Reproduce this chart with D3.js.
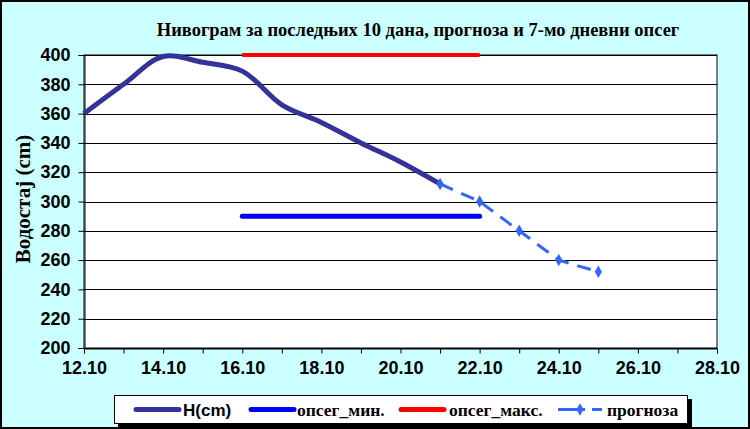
<!DOCTYPE html>
<html><head><meta charset="utf-8">
<script src="https://cdn.jsdelivr.net/npm/d3@7"></script>
<style>body{margin:0;padding:0;overflow:hidden}</style>
</head><body>
<svg id="c" width="750" height="429"></svg>
<script>
const days = [12,13,14,15,16,17,18,19,20,21,22,23,24,25,26,27,28];
const xTickLabels = ["12.10","14.10","16.10","18.10","20.10","22.10","24.10","26.10","28.10"];
const yTicks = [200,220,240,260,280,300,320,340,360,380,400];
const hDays = [12,13,14,15,16,17,18,19,20,21];
const hValues = [360,380,399,395,389,366,354,340,327,312];
const rangeDays = [16,22];
const rangeMin = [290,290];
const rangeMax = [400,400];
const fcDays = [21,22,23,24,25];
const fcValues = [312,300,280,260,252];
const title = "Нивограм за последњих 10 дана, прогноза и 7-мо дневни опсег";
const yLabel = "Водостај (cm)";
const legendItems = ["H(cm)","опсег_мин.","опсег_макс.","прогноза"];

const svg = d3.select("#c");
const W=750,H=429;
svg.append("rect").attr("x",0).attr("y",0).attr("width",W).attr("height",H).attr("fill","#ccffff");
svg.append("rect").attr("x",1).attr("y",1).attr("width",W-2).attr("height",H-2).attr("fill","none").attr("stroke","#000").attr("stroke-width",2);

const L=84,R=717,T=55,B=348;
const x = d3.scaleLinear().domain([12,28]).range([L,R]);
const y = d3.scaleLinear().domain([200,400]).range([B,T]);

svg.append("rect").attr("x",L).attr("y",T).attr("width",R-L).attr("height",B-T).attr("fill","#fff").attr("stroke","#000").attr("stroke-width",1);

// gridlines
svg.append("g").selectAll("line").data(yTicks).join("line")
  .attr("x1",L).attr("x2",R).attr("y1",d=>Math.round(y(d))+0.5).attr("y2",d=>Math.round(y(d))+0.5)
  .attr("stroke","#000").attr("stroke-width",1);

// y axis
const yAxis = d3.axisLeft(y).tickValues(yTicks).tickSize(6).tickPadding(8);
const gy = svg.append("g").attr("transform",`translate(${L+0.5},0)`).call(yAxis);
gy.selectAll("text").attr("font-family","Liberation Sans, Arial").attr("font-weight","bold").attr("font-size",18).attr("fill","#000");
gy.selectAll("line,path").attr("stroke","#000");

// x axis
const xAxis = d3.axisBottom(x).tickValues(days).tickSize(5).tickPadding(8)
  .tickFormat(d => { const i = days.indexOf(d); return i%2===0 ? xTickLabels[i/2] : ""; });
const gx = svg.append("g").attr("transform",`translate(0,${B+0.5})`).call(xAxis);
gx.selectAll("text").attr("font-family","Liberation Sans, Arial").attr("font-weight","bold").attr("font-size",18).attr("fill","#000");
gx.selectAll("line,path").attr("stroke","#000");

// range lines
const ln = d3.line().x(d=>x(d[0])).y(d=>y(d[1]));
svg.append("path").attr("d",ln(rangeDays.map((d,i)=>[d,rangeMax[i]]))).attr("stroke","#ff0000").attr("stroke-width",4).attr("fill","none");
svg.append("path").attr("d",ln(rangeDays.map((d,i)=>[d,rangeMin[i]]))).attr("stroke","#0000ff").attr("stroke-width",5).attr("stroke-linecap","round").attr("fill","none");

// H line
const lnS = d3.line().x(d=>x(d[0])).y(d=>y(d[1])).curve(d3.curveCatmullRom.alpha(0.5));
svg.append("path").attr("d",lnS(hDays.map((d,i)=>[d,hValues[i]]))).attr("stroke","#333399").attr("stroke-width",5).attr("fill","none").attr("stroke-linejoin","round");

// forecast
svg.append("path").attr("d",ln(fcDays.map((d,i)=>[d,fcValues[i]]))).attr("stroke","#3366ff").attr("stroke-width",3).attr("stroke-dasharray","14,9").attr("fill","none");
const diamond = d3.symbol().type(d3.symbolDiamond).size(45);
svg.append("g").selectAll("path").data(fcDays.map((d,i)=>[d,fcValues[i]])).join("path")
  .attr("d",diamond).attr("transform",d=>`translate(${x(d[0])},${y(d[1])})`).attr("fill","#3366ff");

// title
svg.append("text").attr("x",418).attr("y",36).attr("text-anchor","middle")
  .attr("font-family","Liberation Serif, Times New Roman").attr("font-weight","bold").attr("font-size",18.5).text(title);

// y label
svg.append("text").attr("transform","translate(30,199) rotate(-90)").attr("text-anchor","middle")
  .attr("font-family","Liberation Serif, Times New Roman").attr("font-weight","bold").attr("font-size",21).text(yLabel);

// legend
const lg = svg.append("g");
lg.append("rect").attr("x",118).attr("y",399).attr("width",574).attr("height",29).attr("fill","#000");
lg.append("rect").attr("x",114.5).attr("y",395.5).attr("width",573).attr("height",28).attr("fill","#fff").attr("stroke","#000");
const ly = 409.5;
const items = [
  {x1:136,x2:179,tx:183,color:"#333399",w:5,font:"Liberation Sans, Arial",fs:17,dash:null},
  {x1:251,x2:294,tx:297,color:"#0000ff",w:5,font:"Liberation Serif, Times New Roman",fs:17.5,dash:null},
  {x1:401,x2:444,tx:449,color:"#ff0000",w:5,font:"Liberation Serif, Times New Roman",fs:17.5,dash:null},
  {x1:558,x2:602,tx:607,color:"#3366ff",w:3,font:"Liberation Serif, Times New Roman",fs:17.5,dash:"27,7"}
];
items.forEach((it,i)=>{
  lg.append("line").attr("x1",it.x1).attr("x2",it.x2).attr("y1",ly).attr("y2",ly)
    .attr("stroke",it.color).attr("stroke-width",it.w).attr("stroke-linecap",it.dash?"butt":"round")
    .attr("stroke-dasharray",it.dash);
  if(it.dash) lg.append("path").attr("d",diamond).attr("transform",`translate(580,${ly})`).attr("fill",it.color);
  lg.append("text").attr("x",it.tx).attr("y",ly+6).attr("font-family",it.font).attr("font-weight","bold").attr("font-size",it.fs).text(legendItems[i]);
});
</script>
</body></html>
